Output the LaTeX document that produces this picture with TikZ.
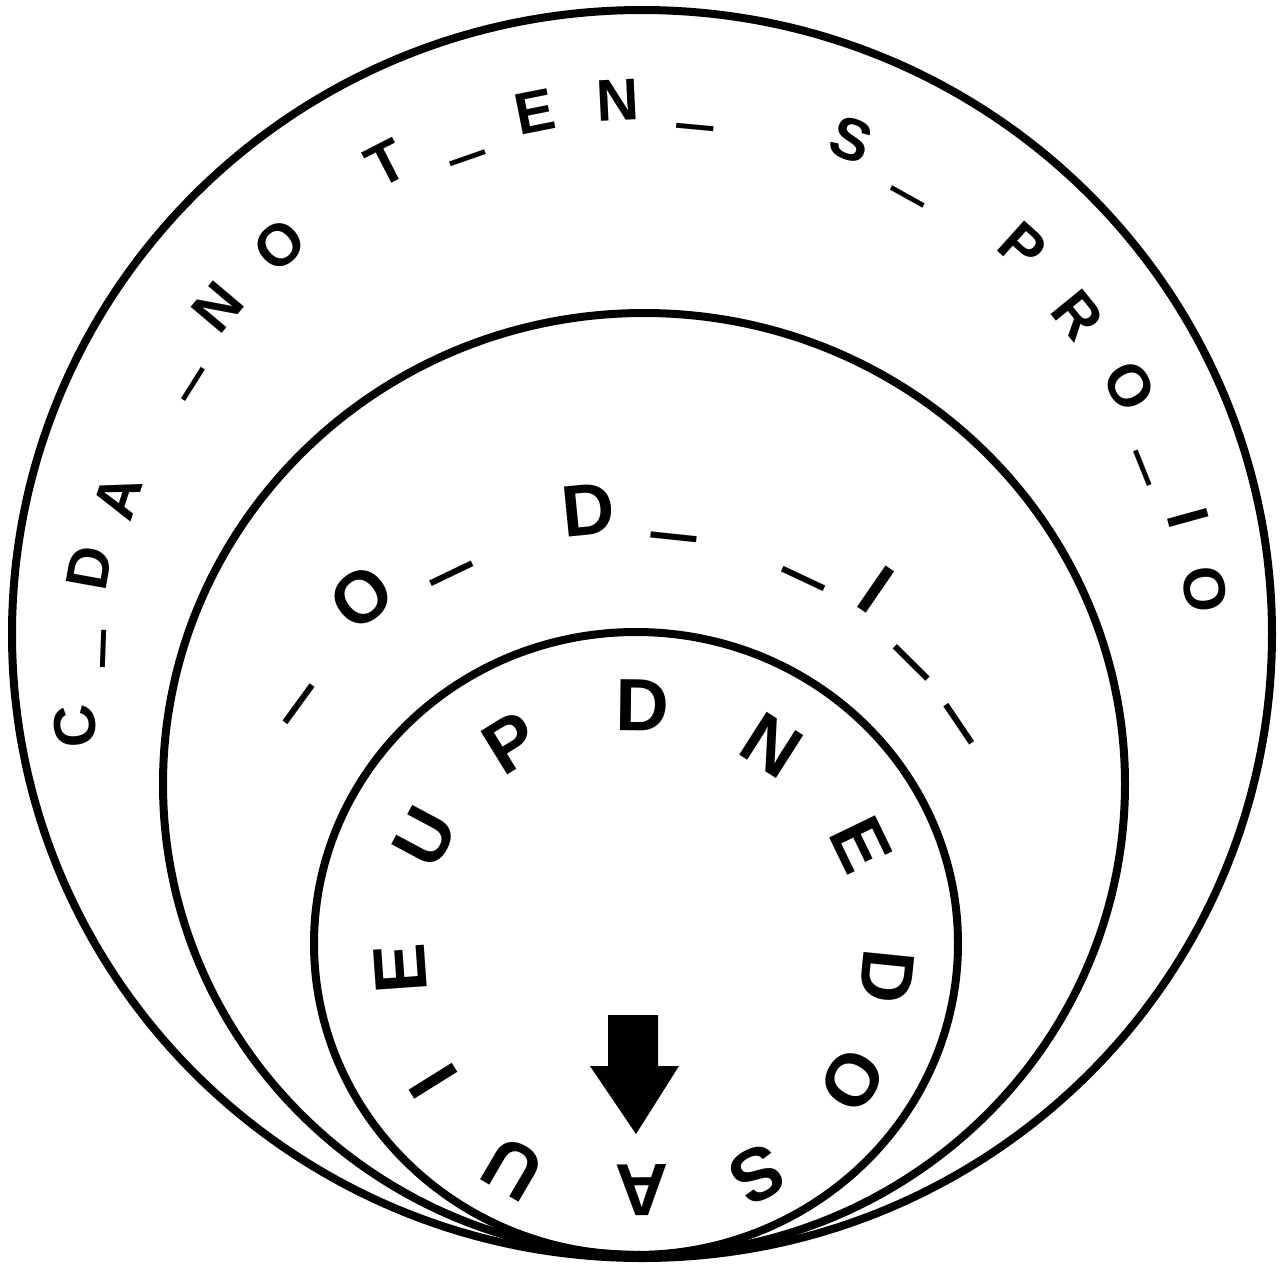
\documentclass[tikz,border=0pt]{standalone}
\usepackage{fontspec}
\setmainfont{Liberation Sans}
\usepackage{graphicx}
\tikzset{
  ring/.style={line width=4pt},
  glyph/.style={inner sep=0pt, outer sep=0pt, font=\bfseries\fontsize{#1}{#1}\selectfont},
}
% name, centre x, centre y, x, y, size, text  (image coordinates, y downwards)
\newcommand\rglyph[7]{%
  \pgfmathsetmacro\rgang{atan2((#3)-(#5),(#4)-(#2))-90}%
  \node[glyph=#6, rotate=\rgang] (#1) at (#4,#5) {#7};}
\newcommand\usc{\smash{\makebox[0pt]{\raisebox{0.385em}{\scalebox{1.1}[2.2]{\_}}}}}
\newcommand\outerglyph[4]{\rglyph{#1}{645}{668}{#2}{#3}{29.5pt}{#4}}
\newcommand\midglyph[4]{\rglyph{#1}{631}{946}{#2}{#3}{36.5pt}{#4}}
\newcommand\innerglyph[4]{\rglyph{#1}{640}{952}{#2}{#3}{37pt}{#4}}
\begin{document}
\begin{tikzpicture}[x=0.5pt,y=-0.5pt]
\useasboundingbox (0,0) rectangle (1282,1266);
% the three circles, touching at the bottom
\draw[ring] (642,634) ellipse [x radius=630, y radius=624];
\draw[ring] (644,784) ellipse [x radius=481, y radius=471];
\draw[ring] (636,943.5) ellipse [x radius=322, y radius=311.5];
% outer ring
\outerglyph{o1}{75}{726}{C}
\outerglyph{o2}{113}{649}{\usc}
\outerglyph{o3}{89}{568}{D}
\outerglyph{o4}{118}{497}{A}
\outerglyph{o5}{201}{389}{\usc}
\outerglyph{o6}{218}{307}{N}
\outerglyph{o7}{280}{245}{O}
\outerglyph{o8}{386}{163}{T}
\outerglyph{o9}{471}{167}{\usc}
\outerglyph{o10}{535}{112}{E}
\outerglyph{o11}{618}{100}{N}
\outerglyph{o12}{694}{137}{\usc}
\outerglyph{o13}{851}{140}{S}
\outerglyph{o14}{903}{205}{\usc}
\outerglyph{o15}{1023}{247}{P}
\outerglyph{o16}{1078}{315}{R}
\outerglyph{o17}{1130}{386}{O}
\outerglyph{o18}{1134}{472}{\usc}
\outerglyph{o19}{1188}{518}{I}
\outerglyph{o20}{1205}{589}{O}
% middle ring
\midglyph{m1}{308}{711}{\usc}
\midglyph{m2}{362}{597}{O}
\midglyph{m3}{457}{584}{\usc}
\midglyph{m4}{588}{510}{D}
\midglyph{m5}{673}{549}{\usc}
\midglyph{m6}{799}{589}{\usc}
\midglyph{m7}{876}{590}{I}
\midglyph{m8}{904}{671}{\usc}
\midglyph{m9}{950}{731}{\usc}
% inner ring
\innerglyph{i1}{513}{1169}{U}
\innerglyph{i2}{433}{1081}{I}
\innerglyph{i3}{400}{969}{E}
\innerglyph{i4}{425}{837}{U}
\innerglyph{i5}{511}{743}{P}
\innerglyph{i6}{643}{705}{D}
\innerglyph{i7}{772}{745}{N}
\innerglyph{i8}{861}{845}{E}
\innerglyph{i9}{887}{977}{D}
\innerglyph{i10}{853}{1080}{O}
\innerglyph{i11}{757}{1175}{S}
\innerglyph{i12}{642}{1190}{A}
% block arrow pointing down
\fill (608,1015) -- (658,1015) -- (658,1066) -- (679,1066) -- (636,1134)
      -- (590,1066) -- (608,1066) -- cycle;
\end{tikzpicture}
\end{document}
